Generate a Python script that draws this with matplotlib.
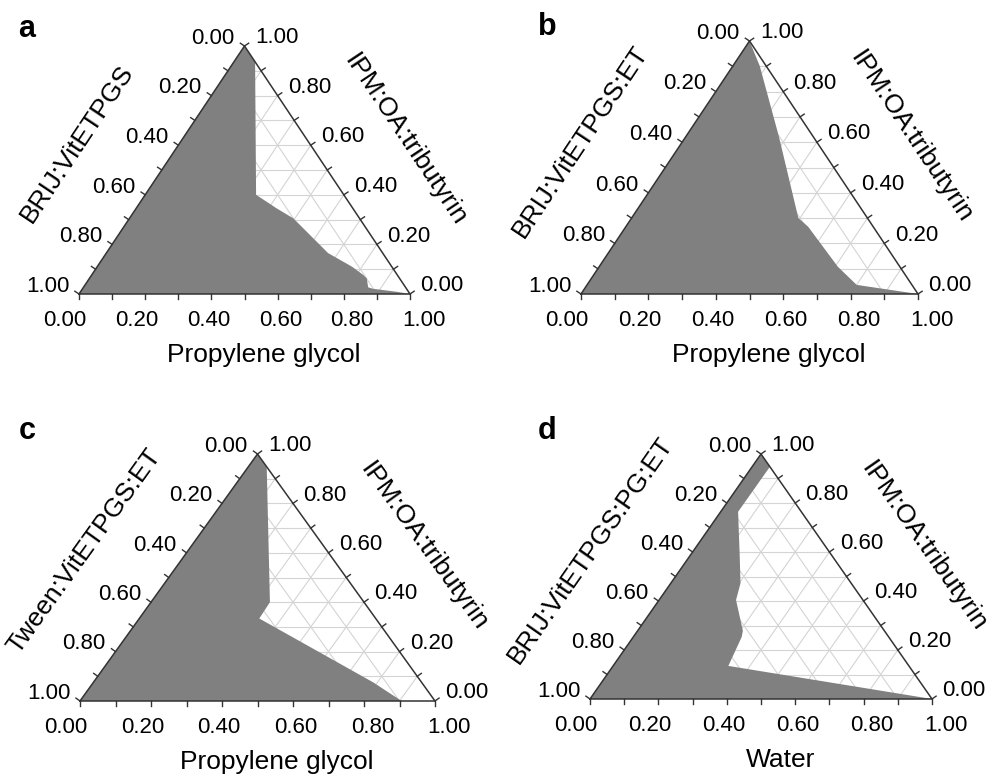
import numpy as np
import matplotlib
matplotlib.use('Agg')
import matplotlib.pyplot as plt

plt.rcParams['font.family'] = ['Liberation Sans', 'DejaVu Sans']

FIG_W, FIG_H = 990, 779

# phase boundaries: (bottom component, oil) fractions
# first two points are the surfactant vertex and the oil apex
pg_a = [0.0, 0.0, 0.064, 0.335, 0.425, 0.495, 0.67, 0.77, 0.82, 0.838, 0.86, 0.878, 0.955, 1.0]
oil_a = [0.0, 1.0, 0.936, 0.40, 0.345, 0.305, 0.165, 0.11, 0.077, 0.063, 0.027, 0.021, 0.009, 0.0]

pg_b = [0.0, 0.0, 0.08, 0.277, 0.495, 0.541, 0.708, 0.80, 1.0]
oil_b = [0.0, 1.0, 0.901, 0.621, 0.30, 0.266, 0.108, 0.036, 0.0]

pg_c = [0.0, 0.0, 0.053, 0.335, 0.338, 0.789, 0.906]
oil_c = [0.0, 1.0, 0.946, 0.40, 0.334, 0.075, 0.0]

water_d = [0.0, 0.0, 0.052, 0.051, 0.14, 0.204, 0.225, 0.308, 0.317, 0.337, 1.0]
oil_d = [0.0, 1.0, 0.948, 0.764, 0.595, 0.472, 0.404, 0.278, 0.253, 0.135, 0.0]

tick_vals = np.round(np.arange(0, 1.01, 0.1), 2)
label_vals = [0.0, 0.2, 0.4, 0.6, 0.8, 1.0]

fig = plt.figure(figsize=(FIG_W / 100, FIG_H / 100), dpi=100)


def xy(b, c):
    b = np.asarray(b, float)
    c = np.asarray(c, float)
    return b + c / 2, c


def ternary(rect, letter, letter_xy, bottom_name, left_name, right_name, b, c):
    # rect in pixels: left, base y, width, height
    left, base, W, H = rect
    ax = fig.add_axes([left / FIG_W, 1 - base / FIG_H, W / FIG_W, H / FIG_H])
    ax.set_xlim(0, 1)
    ax.set_ylim(0, 1)
    ax.axis('off')

    # grid
    for v in tick_vals[1:-1]:
        for bb, cc in [([0, 1 - v], [v, v]), ([v, v], [0, 1 - v]), ([1 - v, 0], [0, 1 - v])]:
            x, y = xy(bb, cc)
            ax.plot(x, y, color='#d4d4d4', lw=0.8, zorder=1)

    # phase region
    x, y = xy(b, c)
    ax.fill(x, y, color='#808080', lw=0, zorder=2)

    # frame
    x, y = xy([0, 1, 0, 0], [0, 0, 1, 0])
    ax.plot(x, y, color='#333333', lw=1.1, zorder=3, clip_on=False)

    # outward normals in pixel space
    L = 5.0
    nl = np.array([-H, W / 2]); nl /= np.hypot(*nl)
    nr = np.array([H, W / 2]); nr /= np.hypot(*nr)
    ang = np.degrees(np.arctan2(H, W / 2))

    def tick(px, py, n):
        ax.plot([px, px + n[0] * L / W], [py, py + n[1] * L / H],
                color='#333333', lw=1.0, zorder=3, clip_on=False)

    for v in tick_vals:
        # bottom axis
        px, py = xy(v, 0)
        tick(px, py, (0, -1))
        # left axis (surfactant)
        px, py = xy(0, 1 - v)
        tick(px, py, nl)
        # right axis (oil)
        px, py = xy(1 - v, v)
        tick(px, py, nr)

    fs = 16
    for v in label_vals:
        px, py = xy(v, 0)
        ax.annotate('%.2f' % v, (px, py), xytext=((v - 0.5) * 20, -19),
                    textcoords='offset points', ha='center', va='center', fontsize=fs)
        px, py = xy(0, 1 - v)
        ax.annotate('%.2f' % v, (px, py), xytext=(-7, 5.5),
                    textcoords='offset points', ha='right', va='center', fontsize=fs)
        px, py = xy(1 - v, v)
        ax.annotate('%.2f' % v, (px, py), xytext=(7.5, 6),
                    textcoords='offset points', ha='left', va='center', fontsize=fs)

    ts = 19
    ax.annotate(bottom_name, (0.5, 0), xytext=(14, -44), textcoords='offset points',
                ha='center', va='center', fontsize=ts)
    ax.annotate(left_name, (0.25, 0.5), xytext=(-61, 19), textcoords='offset points',
                ha='center', va='center', fontsize=ts, rotation=ang, rotation_mode='anchor')
    ax.annotate(right_name, (0.75, 0.5), xytext=(56, 22), textcoords='offset points',
                ha='center', va='center', fontsize=ts, rotation=-ang, rotation_mode='anchor')

    fig.text(letter_xy[0] / FIG_W, 1 - letter_xy[1] / FIG_H, letter,
             fontsize=22, fontweight='bold', ha='center', va='center')


ternary((79, 294, 331, 248), 'a', (27, 29), 'Propylene glycol',
        'BRIJ:VitETPGS', 'IPM:OA:tributyrin', pg_a, oil_a)
ternary((581, 294, 337, 253), 'b', (547, 27), 'Propylene glycol',
        'BRIJ:VitETPGS:ET', 'IPM:OA:tributyrin', pg_b, oil_b)
ternary((80, 701, 355, 247), 'c', (27, 431), 'Propylene glycol',
        'Tween:VitETPGS:ET', 'IPM:OA:tributyrin', pg_c, oil_c)
ternary((590, 699, 342, 245), 'd', (547, 431), 'Water',
        'BRIJ:VitETPGS:PG:ET', 'IPM:OA:tributyrin', water_d, oil_d)

fig.savefig('out.png', dpi=100)
